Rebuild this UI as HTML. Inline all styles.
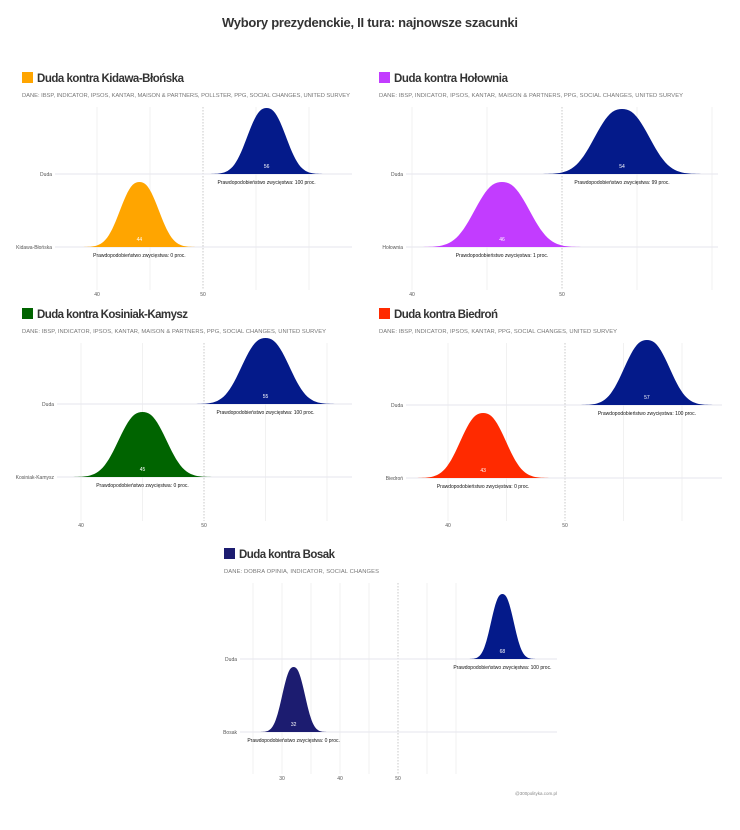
<!DOCTYPE html>
<html><head><meta charset="utf-8"><style>
body{margin:0;background:#fff;font-family:"Liberation Sans",sans-serif;}
svg{display:block}
</style></head><body>
<svg id="s" width="740" height="830" xmlns="http://www.w3.org/2000/svg">
<text x="370" y="27" text-anchor="middle" font-size="13" font-weight="bold" fill="#333" textLength="296">Wybory prezydenckie, II tura: najnowsze szacunki</text>
</svg>
<script>
var s=document.getElementById('s'),h='';
function P(o){
 var u=(o.x50-o.x40)/10;
 function X(v){return o.x40+(v-40)*u;}
 h+='<rect x="'+o.tx+'" y="'+(o.ty-10)+'" width="11" height="11" fill="'+o.c2+'"/>';
 h+='<text x="'+(o.tx+15)+'" y="'+o.ty+'" font-size="11.5" font-weight="bold" fill="#333" textLength="'+o.tl+'">'+o.title+'</text>';
 h+='<text x="'+o.tx+'" y="'+(o.ty+15)+'" font-size="5.8" fill="#777" textLength="'+o.sl+'">'+o.sub+'</text>';
 for(var g=o.g0;g<=o.g1;g+=5){var gx=X(g);
  if(g==50)h+='<line x1="'+gx+'" x2="'+gx+'" y1="'+(o.ty+25)+'" y2="'+(o.ax-6)+'" stroke="#bbb" stroke-width="0.8" stroke-dasharray="1.5,1.5"/>';
  else h+='<line x1="'+gx+'" x2="'+gx+'" y1="'+(o.ty+25)+'" y2="'+(o.ax-6)+'" stroke="#eee" stroke-width="0.8"/>';}
 [[o.b1,'Duda'],[o.b2,o.n2]].forEach(function(b){
  h+='<line x1="'+(o.lx+3)+'" x2="'+o.rx+'" y1="'+b[0]+'" y2="'+b[0]+'" stroke="#e6e6ee" stroke-width="1"/>';
  h+='<text x="'+o.lx+'" y="'+(b[0]+2)+'" text-anchor="end" font-size="5" fill="#555">'+b[1]+'</text>';});
 [[o.m1,o.b1,o.h1,o.sd1,'#041a8a',o.p1],[o.m2,o.b2,o.h2,o.sd2,o.c2,o.p2]].forEach(function(d){
  var cx=X(d[0]),p='M'+(cx-4*d[3])+','+d[1];
  for(var i=-40;i<=40;i++){var t=i/10;p+=' L'+(cx+t*d[3]).toFixed(1)+','+(d[1]-d[2]*Math.exp(-Math.pow(Math.abs(t),2.4)/2.4)).toFixed(1);}
  h+='<path d="'+p+' Z" fill="'+d[4]+'"/>';
  h+='<text x="'+cx+'" y="'+(d[1]-6)+'" text-anchor="middle" font-size="5" fill="#fff">'+d[0]+'</text>';
  h+='<text x="'+cx+'" y="'+(d[1]+10)+'" text-anchor="middle" font-size="5" fill="#111">Prawdopodobieństwo zwycięstwa: '+d[5]+' proc.</text>';});
 o.ticks.forEach(function(t){h+='<text x="'+X(t)+'" y="'+o.ax+'" text-anchor="middle" font-size="5" fill="#555">'+t+'</text>';});
}
P({tx:22,ty:82,tl:147,sl:328,title:'Duda kontra Kidawa-Błońska',sub:'DANE: IBSP, INDICATOR, IPSOS, KANTAR, MAISON &amp; PARTNERS, POLLSTER, PPG, SOCIAL CHANGES, UNITED SURVEY',
 c2:'#ffa500',n2:'Kidawa-Błońska',x40:97,x50:203,g0:40,g1:60,lx:52,rx:352,b1:174,b2:247,ax:296,
 m1:56,h1:66,sd1:17,p1:100,m2:44,h2:65,sd2:17,p2:0,ticks:[40,50]});
P({tx:379,ty:82,tl:114,sl:304,title:'Duda kontra Hołownia',sub:'DANE: IBSP, INDICATOR, IPSOS, KANTAR, MAISON &amp; PARTNERS, PPG, SOCIAL CHANGES, UNITED SURVEY',
 c2:'#c23cff',n2:'Hołownia',x40:412,x50:562,g0:40,g1:60,lx:403,rx:718,b1:174,b2:247,ax:296,
 m1:54,h1:65,sd1:24,p1:99,m2:46,h2:65,sd2:24,p2:1,ticks:[40,50]});
P({tx:22,ty:318,tl:151,sl:304,title:'Duda kontra Kosiniak-Kamysz',sub:'DANE: IBSP, INDICATOR, IPSOS, KANTAR, MAISON &amp; PARTNERS, PPG, SOCIAL CHANGES, UNITED SURVEY',
 c2:'#006400',n2:'Kosiniak-Kamysz',x40:81,x50:204,g0:40,g1:60,lx:54,rx:352,b1:404,b2:477,ax:527,
 m1:55,h1:66,sd1:21,p1:100,m2:45,h2:65,sd2:21,p2:0,ticks:[40,50]});
P({tx:379,ty:318,tl:104,sl:238,title:'Duda kontra Biedroń',sub:'DANE: IBSP, INDICATOR, IPSOS, KANTAR, PPG, SOCIAL CHANGES, UNITED SURVEY',
 c2:'#ff2a00',n2:'Biedroń',x40:448,x50:565,g0:40,g1:60,lx:403,rx:722,b1:405,b2:478,ax:527,
 m1:57,h1:65,sd1:20,p1:100,m2:43,h2:65,sd2:20,p2:0,ticks:[40,50]});
P({tx:224,ty:558,tl:96,sl:155,title:'Duda kontra Bosak',sub:'DANE: DOBRA OPINIA, INDICATOR, SOCIAL CHANGES',
 c2:'#1c1c70',n2:'Bosak',x40:340,x50:398,g0:25,g1:60,lx:237,rx:557,b1:659,b2:732,ax:780,
 m1:68,h1:65,sd1:10,p1:100,m2:32,h2:65,sd2:10,p2:0,ticks:[30,40,50]});
h+='<text x="557" y="795" text-anchor="end" font-size="4.5" fill="#888">@300polityka.com.pl</text>';
s.insertAdjacentHTML('beforeend',h);
</script>
</body></html>
